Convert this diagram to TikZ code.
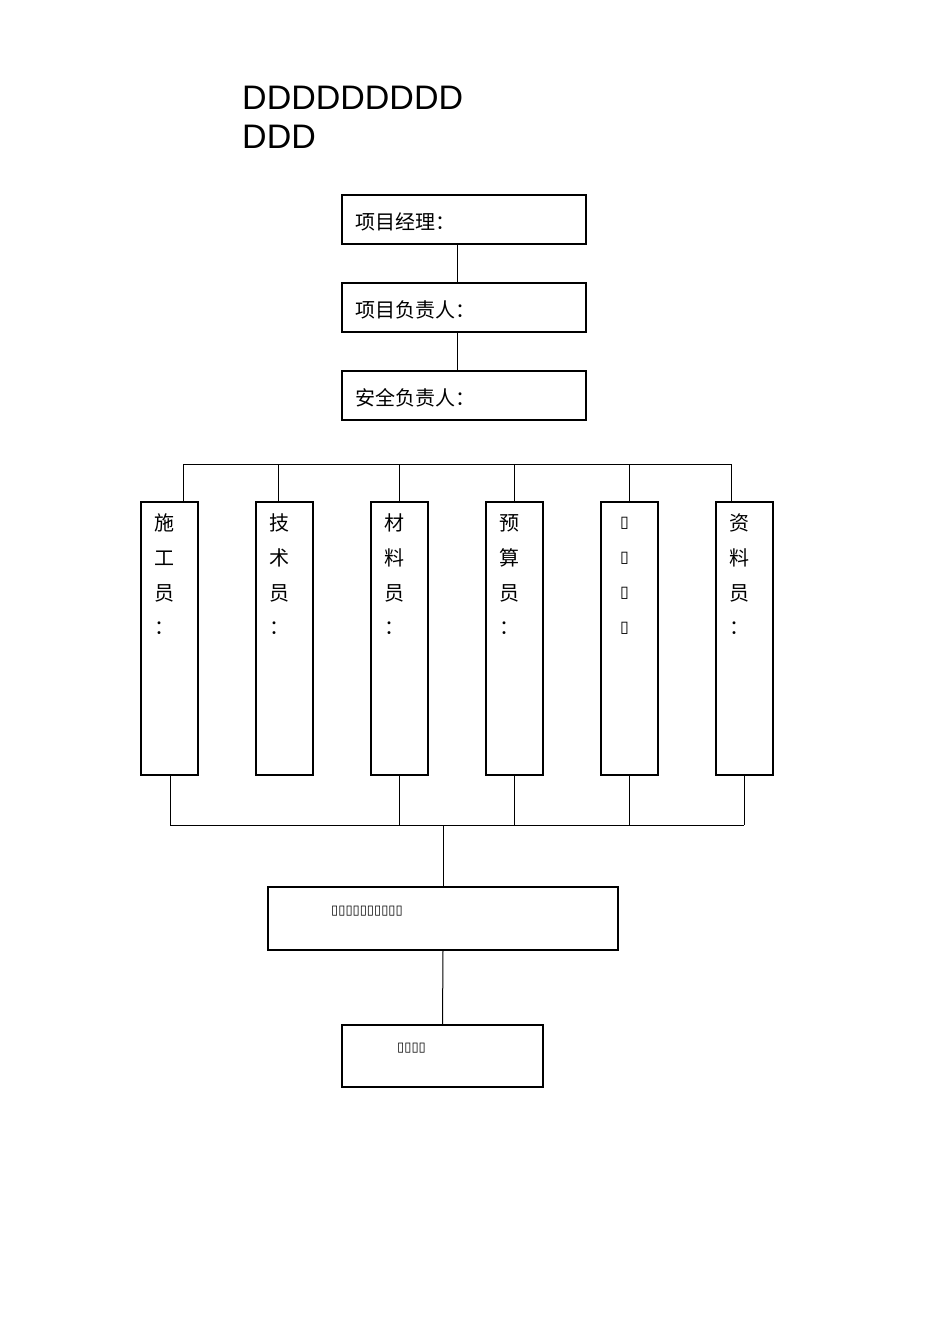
\documentclass[tikz,border=0pt]{standalone}
\usepackage{fontspec}
\setmainfont{Liberation Sans}
\newfontfamily\cjk{Noto Sans CJK SC}
\newfontfamily\djvfont{DejaVu Sans}
\begin{document}
\begin{tikzpicture}[x=1pt,y=-1pt,
  bx/.style={draw,line width=1.2pt,inner sep=0},
  ln/.style={line width=1pt},
  colcjk/.style={font=\cjk\fontsize{20}{22}\selectfont,inner sep=0},
  coltofu/.style={font=\djvfont\fontsize{16}{18}\selectfont,inner sep=0},
  ct/.style={font=\cjk\fontsize{20}{22}\selectfont,anchor=west,inner sep=0}]
\useasboundingbox (0,0) rectangle (950,1344);
\node[anchor=west,inner sep=0,font=\fontsize{34}{36}\selectfont] at (242,98) {DDDDDDDDD};
\node[anchor=west,inner sep=0,font=\fontsize{34}{36}\selectfont] at (242,137) {DDD};
\node[bx,minimum width=244,minimum height=49] (b1) at (464,219.5) {};
\node[bx,minimum width=244,minimum height=49] (b2) at (464,307.5) {};
\node[bx,minimum width=244,minimum height=49] (b3) at (464,395.5) {};
\node[ct] at (355,222) {项目经理：};
\node[ct] at (355,310) {项目负责人：};
\node[ct] at (355,398) {安全负责人：};
\draw[ln] (457,244) -- (457,283);
\draw[ln] (457,332) -- (457,371);
\coordinate (busL) at (183,464); \coordinate (busR) at (731,464);
\draw[ln] (busL) -- (busR);
\foreach \i/\x/\tx/\st/\t in {1/169.5/183/colcjk/{施,工,员,：},2/284.5/278/colcjk/{技,术,员,：},3/399.5/399/colcjk/{材,料,员,：},4/514.5/514/colcjk/{预,算,员,：},5/629.5/629/coltofu/{▯,▯,▯,▯},6/744.5/731/colcjk/{资,料,员,：}}{
  \node[bx,minimum width=57,minimum height=273] (c\i) at (\x,638.5) {};
  \draw[ln] (\tx,464) -- (\tx,502);
  \foreach \ch [count=\k] in \t {
    \node[\st] at (\x-5,488+35*\k) {\ch};
  }
}
\foreach \bxx in {170,399,514,629,744} { \draw[ln] (\bxx,775) -- (\bxx,825); }
\coordinate (jL) at (170,825); \coordinate (jR) at (744,825);
\draw[ln] (jL) -- (jR);
\node[bx,minimum width=350,minimum height=63] (b4) at (443,918.5) {};
\node[bx,minimum width=201,minimum height=62] (b5) at (442.5,1056) {};
\draw[ln] (443,825) -- (b4.north);
\draw[ln] (b4.south) -- (b5.north);
\node[anchor=west,inner sep=0,font=\djvfont\fontsize{13}{14}\selectfont] at (331,911) {▯▯▯▯▯▯▯▯▯▯};
\node[anchor=west,inner sep=0,font=\djvfont\fontsize{13}{14}\selectfont] at (397,1048) {▯▯▯▯};
\end{tikzpicture}
\end{document}
